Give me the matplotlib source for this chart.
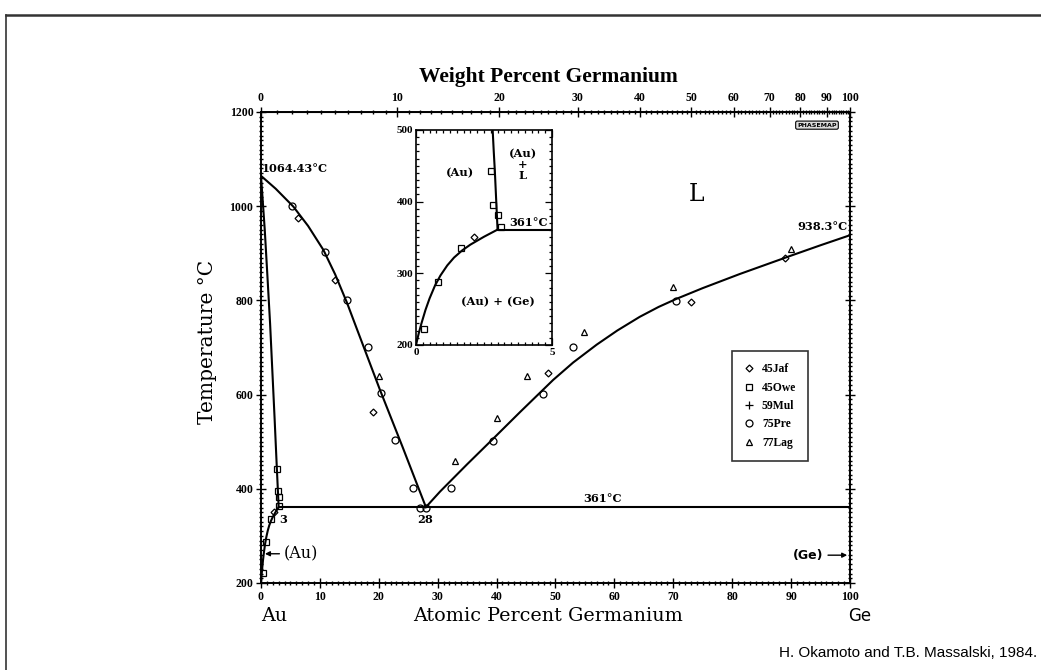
"""
Au-Ge phase diagram (after Okamoto & Massalski, 1984)
"""

import matplotlib.pyplot as plt
from matplotlib.ticker import MultipleLocator, FixedLocator
from matplotlib.lines import Line2D

M_AU, M_GE = 196.97, 72.63

# phase boundaries (at.% Ge, deg C)
liq_au_x = [0, 2.5, 5.5, 8, 10.6, 12.6, 14.6, 16.2, 20.2, 24, 28]
liq_au_t = [1064.43, 1037, 999, 958, 907, 855, 795, 742, 610, 490, 361]
liq_ge_x = [28, 30.4, 35, 39.4, 44, 49.6, 53, 57, 60.5, 64.3, 67.5, 70.5, 75,
            81.3, 90, 95, 100]
liq_ge_t = [361, 394, 452, 506, 563, 631, 668, 706, 736, 765, 786, 803, 826,
            856, 895, 917, 938.3]
solidus_x = [0, 0.64, 1.1, 1.55, 1.93, 2.31, 2.67, 3.0]
solidus_t = [1064.43, 950, 850, 750, 650, 550, 450, 361]
solvus_x = [0, 0.1, 0.2, 0.35, 0.5, 0.7, 0.9, 1.15, 1.4, 1.7, 2.0, 2.5, 3.0]
solvus_t = [200, 216, 230, 249, 265, 283, 297, 311, 322, 332, 340, 351, 361]
eut_x = [3, 100]
eut_t = [361, 361]
# Au-rich solidus as drawn in the inset
solidus_in_x = [2.82, 2.86, 2.90, 2.94, 3.0]
solidus_in_t = [500, 470, 443, 410, 361]
eut_in_x = [3, 5]

# experimental points
jaf_x = [2.13, 6.3, 12.6, 19.0, 48.7, 73.0, 89.0]
jaf_t = [351, 975, 843, 563, 646, 797, 890]
owe_x = [0.31, 0.82, 1.67, 2.75, 2.82, 3.03, 3.12]
owe_t = [222, 288, 335, 443, 395, 382, 364]
mul_x = []
mul_t = []
pre_x = [5.3, 10.9, 14.6, 18.2, 20.4, 22.8, 25.8, 27.0, 28.0, 32.2, 39.4, 47.8, 53.0, 70.5]
pre_t = [1000, 903, 800, 702, 603, 504, 402, 360, 360, 402, 501, 601, 701, 799]
lag_x = [20.0, 32.9, 40.0, 45.2, 54.8, 69.9, 90.0]
lag_t = [640, 460, 550, 640, 733, 829, 909]

# tick values
at_ticks = [0, 10, 20, 30, 40, 50, 60, 70, 80, 90, 100]
wt_ticks = [0, 10, 20, 30, 40, 50, 60, 70, 80, 90, 100]
t_ticks = [200, 400, 600, 800, 1000, 1200]


def at_to_wt(a):
    return 100 * a * M_GE / (a * M_GE + (100 - a) * M_AU)


def wt_to_at(w):
    return 100 * (w / M_GE) / (w / M_GE + (100 - w) / M_AU)


serif = 'Liberation Serif'
tick_font = dict(family=serif, weight='bold', size=8.5)
txt = dict(family='DejaVu Serif', weight='bold', size=8.2)

fig = plt.figure(figsize=(10.41, 6.70), dpi=100)
ax = fig.add_axes([0.2507, 0.1299, 0.5658, 0.7030])

lw = 1.5
ax.plot(liq_au_x, liq_au_t, 'k-', lw=lw)
ax.plot(liq_ge_x, liq_ge_t, 'k-', lw=lw)
ax.plot(solidus_x, solidus_t, 'k-', lw=lw)
ax.plot(solvus_x, solvus_t, 'k-', lw=lw)
ax.plot(eut_x, eut_t, 'k-', lw=lw)

mk = dict(ls='none', mfc='none', mec='k', mew=0.9)
h_jaf, = ax.plot(jaf_x, jaf_t, 'D', ms=3.5, label='45Jaf', **mk)
h_owe, = ax.plot(owe_x, owe_t, 's', ms=4.5, label='45Owe', **mk)
h_mul, = ax.plot(mul_x, mul_t, '+', ms=6, label='59Mul', **mk)
h_pre, = ax.plot(pre_x, pre_t, 'o', ms=5, label='75Pre', **mk)
h_lag, = ax.plot(lag_x, lag_t, '^', ms=5, label='77Lag', **mk)

ax.set_xlim(0, 100)
ax.set_ylim(200, 1200)
ax.set_xticks(at_ticks)
ax.set_yticks(t_ticks)
ax.xaxis.set_minor_locator(MultipleLocator(1))
ax.yaxis.set_minor_locator(MultipleLocator(10))
ax.tick_params(which='both', direction='inout', right=True, top=False, width=1)
ax.tick_params(which='major', length=7, pad=2)
ax.tick_params(which='minor', length=3)
for lab in ax.get_xticklabels() + ax.get_yticklabels():
    lab.set(**tick_font)
for s in ax.spines.values():
    s.set_linewidth(1.4)

# top axis: weight percent
sec = ax.secondary_xaxis('top', functions=(at_to_wt, wt_to_at))
sec.set_xticks(wt_ticks)
sec.xaxis.set_minor_locator(FixedLocator(list(range(0, 101))))
sec.tick_params(which='both', direction='inout', width=1)
sec.tick_params(which='major', length=7, pad=2)
sec.tick_params(which='minor', length=3)
for lab in sec.get_xticklabels():
    lab.set(**tick_font)

# labels inside the main plot
ax.text(0.1, 1081, '1064.43°C', ha='left', va='center', **txt)
ax.text(99.5, 957, '938.3°C', ha='right', va='center', **txt)
ax.text(54.7, 380, '361°C', ha='left', va='center', **txt)
ax.text(3.8, 334, '3', ha='center', va='center', **txt)
ax.text(27.8, 334, '28', ha='center', va='center', **txt)
ax.text(74, 1024, 'L', ha='center', va='center', family='DejaVu Serif', size=17)
ax.annotate('', xy=(0.2, 262), xytext=(3.6, 262),
            arrowprops=dict(arrowstyle='-|>', color='k', lw=1, mutation_scale=7))
ax.text(3.8, 262, '(Au)', ha='left', va='center', family='DejaVu Serif', size=11.5)
ax.annotate('', xy=(100, 259), xytext=(95.8, 259),
            arrowprops=dict(arrowstyle='-|>', color='k', lw=1, mutation_scale=7))
ax.text(95.4, 259, '(Ge)', ha='right', va='center', family='DejaVu Sans',
        weight='bold', size=9)
ax.text(94.4, 1172, 'PHASEMAP', ha='center', va='center', family='DejaVu Sans',
        weight='bold', size=4.5,
        bbox=dict(boxstyle='round,pad=0.25', fc='#dddddd', ec='k', lw=0.8))

leg = ax.legend(handles=[h_jaf, h_owe, h_mul, h_pre, h_lag], loc='upper left',
                bbox_to_anchor=(0.800, 0.4926), frameon=True, fancybox=False,
                edgecolor='k', handlelength=0.8, handletextpad=0.7,
                labelspacing=0.55, borderpad=1.05, borderaxespad=0,
                prop=dict(family=serif, weight='bold', size=8.4))
leg.get_frame().set_linewidth(1.2)

# inset: Au-rich corner
ins = fig.add_axes([0.3996, 0.4851, 0.1306, 0.3209])
ins.plot(solvus_x, solvus_t, 'k-', lw=lw)
ins.plot(solidus_in_x, solidus_in_t, 'k-', lw=lw)
ins.plot(eut_in_x, eut_t, 'k-', lw=lw)
ins.plot(jaf_x, jaf_t, 'D', ms=3.5, **mk)
ins.plot(owe_x, owe_t, 's', ms=5, **mk)
ins.set_xlim(0, 5)
ins.set_ylim(200, 500)
ins.set_xticks([0, 5])
ins.set_yticks([200, 300, 400, 500])
ins.xaxis.set_minor_locator(MultipleLocator(0.25))
ins.yaxis.set_minor_locator(MultipleLocator(10))
ins.tick_params(which='both', direction='in', top=True, right=True, width=0.9)
ins.tick_params(which='major', length=5, pad=2)
ins.tick_params(which='minor', length=2.5)
for lab in ins.get_xticklabels() + ins.get_yticklabels():
    lab.set(family=serif, weight='bold', size=8)
for s in ins.spines.values():
    s.set_linewidth(1.2)
ins.text(1.62, 440, '(Au)', ha='center', va='center', **txt)
ins.text(3.93, 452, '(Au)\n+\nL', ha='center', va='center', linespacing=1.0, **txt)
ins.text(3.42, 371, '361°C', ha='left', va='center', **txt)
ins.text(3.0, 261, '(Au) + (Ge)', ha='center', va='center', **txt)

# axis titles and credits
fig.text(0.5264, 0.0806, 'Atomic Percent Germanium', ha='center', va='center',
         family='DejaVu Serif', size=13.8)
fig.text(0.2507, 0.0806, 'Au', ha='left', va='center', family='DejaVu Serif', size=13.8)
fig.text(0.8150, 0.0806, 'Ge', ha='left', va='center', family='DejaVu Sans', size=12)
fig.text(0.5264, 0.885, 'Weight Percent Germanium', ha='center', va='center',
         family=serif, weight='bold', size=15.5)
fig.text(0.1998, 0.4896, 'Temperature °C', ha='center', va='center',
         rotation=90, family='DejaVu Serif', size=14.5)
fig.text(0.996, 0.0254, 'H. Okamoto and T.B. Massalski, 1984.', ha='right',
         va='center', family='Liberation Sans', size=11)

# page frame lines
fig.add_artist(Line2D([0.006, 1.0], [0.978, 0.978], color='#333333', lw=1.8))
fig.add_artist(Line2D([0.006, 0.006], [0.0, 0.978], color='#333333', lw=1.2))

fig.savefig('out.png', dpi=100)
